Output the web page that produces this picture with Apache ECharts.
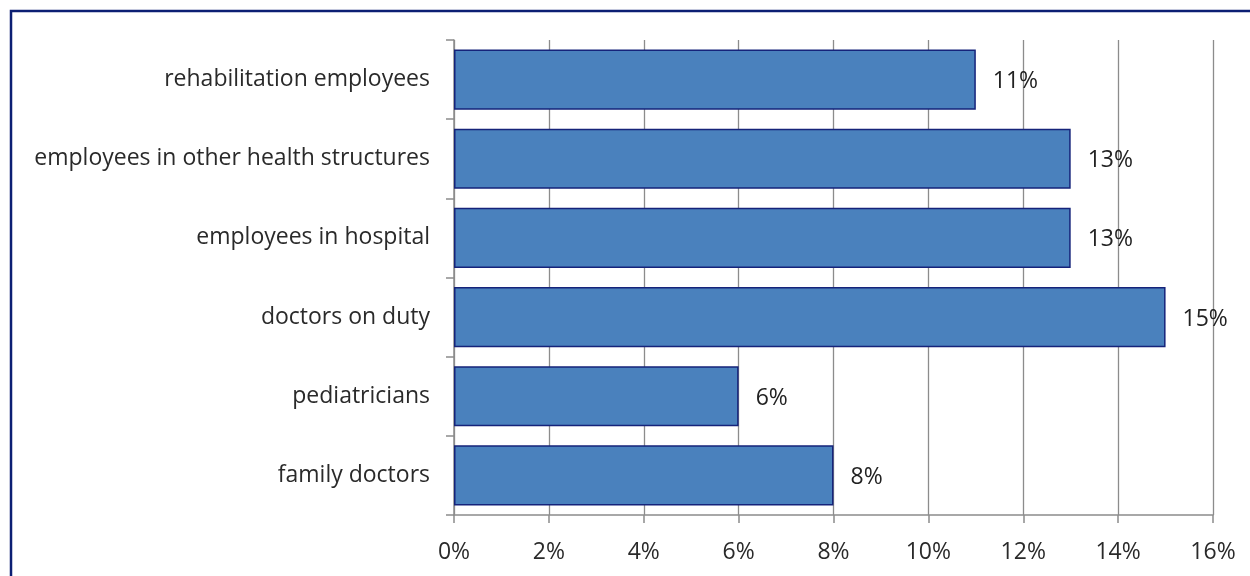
<!DOCTYPE html>
<html><head><meta charset="utf-8">
<script src="https://cdn.jsdelivr.net/npm/echarts@6/dist/echarts.min.js"></script>
<style>html,body{margin:0;padding:0;background:#fff}#c{width:1250px;height:576px}</style>
</head><body><div id="c"></div>
<script>
const categories = ["family doctors","pediatricians","doctors on duty","employees in hospital","employees in other health structures","rehabilitation employees"];
const values = [8,6,15,13,13,11];
const xTicks = {min:0,max:16,interval:2};

const chart = echarts.init(document.getElementById('c'), null, {renderer:'canvas'});
const font = "Open Sans";
chart.setOption({
  animation:false,
  backgroundColor:'#fff',
  graphic:[{type:'rect',shape:{x:11,y:11,width:1400,height:800},style:{fill:'none',stroke:'#0c1f73',lineWidth:2.5},z:100}],
  grid:{left:454,right:37,top:40,bottom:61,containLabel:false},
  xAxis:{type:'value',min:xTicks.min,max:xTicks.max,interval:xTicks.interval,
    axisLine:{show:true,lineStyle:{color:'#8c8c8c',width:1.5}},
    axisTick:{show:true,length:8,lineStyle:{color:'#8c8c8c',width:1.5}},
    splitLine:{show:true,lineStyle:{color:'#8c8c8c',width:1.3}},
    axisLabel:{formatter:v=>v+'%',fontFamily:font,fontSize:23,color:'#2a2a2a',margin:26}},
  yAxis:{type:'category',data:categories,
    axisLine:{show:true,lineStyle:{color:'#8c8c8c',width:1.5}},
    axisTick:{show:true,length:8,lineStyle:{color:'#8c8c8c',width:1.5}},
    axisLabel:{fontFamily:font,fontSize:23,color:'#2a2a2a',margin:24,padding:[5,0,0,0]}},
  series:[{type:'bar',data:values,barCategoryGap:'24%',
    itemStyle:{color:'#4a81bd',borderColor:'#15237a',borderWidth:1.5},
    label:{show:true,position:'right',distance:17,offset:[0,2],formatter:p=>p.value+'%',fontFamily:font,fontSize:23,color:'#222'}}]
});
</script></body></html>
